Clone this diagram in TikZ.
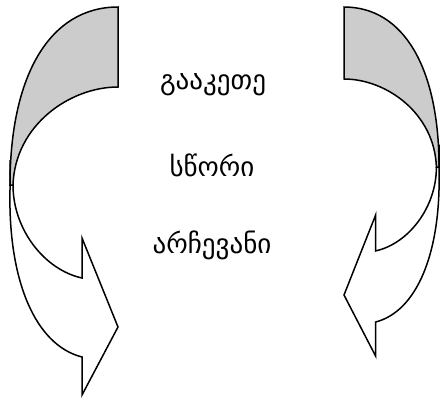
\documentclass[tikz,border=0pt]{standalone}
\usepackage{fontspec}
\newfontfamily\geofont{DejaVu Sans}
\definecolor{backgray}{RGB}{204,204,204}
\tikzset{
  band/.style={draw=black, line width=1.5pt, line join=miter},
  word/.style={font=\geofont\fontsize{27}{30}\selectfont, inner sep=0pt}
}

\begin{document}
\begin{tikzpicture}[x=1pt,y=-1pt]
\useasboundingbox (0,0) rectangle (441,400);
% left arrow, turning right at the bottom
\begin{scope}[shift={(118,7)}]
\filldraw[band, fill=backgray] (0,0) .. controls (-68,0) and (-108,68) .. (-108,178) -- (-105,178) .. controls (-103,118) and (-48,80) .. (0,80) -- cycle;
\draw[band] (-108,153) -- (-108,183) .. controls (-110,273) and (-83,338) .. (-36,350) -- (-36,388) -- (0,320) -- (-36,231) -- (-36,271) .. controls (-73,263) and (-105,223) .. (-105,178);
\end{scope}
% right arrow, mirrored and a bit smaller
\begin{scope}[shift={(344,7)}, xscale=-0.88, yscale=0.9]
\filldraw[band, fill=backgray] (0,0) .. controls (-68,0) and (-108,68) .. (-108,178) -- (-105,178) .. controls (-103,118) and (-48,80) .. (0,80) -- cycle;
\draw[band] (-108,153) -- (-108,183) .. controls (-110,273) and (-83,338) .. (-36,350) -- (-36,388) -- (0,320) -- (-36,231) -- (-36,271) .. controls (-73,263) and (-105,223) .. (-105,178);
\end{scope}
% the words in the middle
\node[word] (make) at (213,85) {გააკეთე};
\node[word] (right) at (212,165) {სწორი};
\node[word] (choice) at (212,245) {არჩევანი};
\end{tikzpicture}
\end{document}
